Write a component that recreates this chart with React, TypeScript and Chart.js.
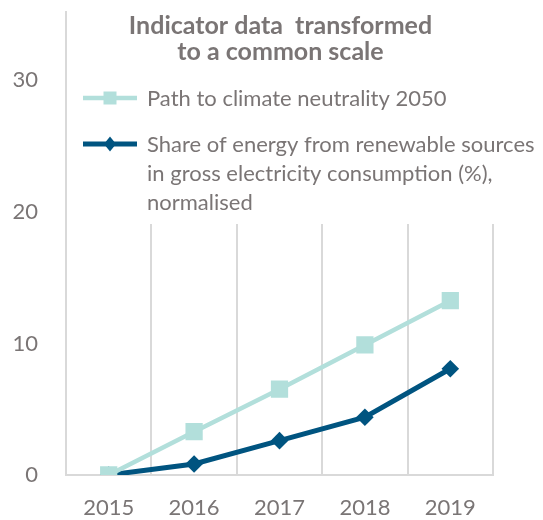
import React, { useEffect, useRef } from "react";
import { Chart, registerables } from "chart.js";

Chart.register(...registerables);

const categories = ["2015", "2016", "2017", "2018", "2019"];
const pathValues = [0, 3.29, 6.52, 9.89, 13.25];
const renewableValues = [0, 0.84, 2.61, 4.39, 8.08];
const yTicks = [0, 10, 20, 30];
const titleLines = ["Indicator data  transformed", "to a common scale"];
const pathLabel = ["Path to climate neutrality 2050"];
const renewableLabel = [
  "Share of energy from renewable sources",
  "in gross electricity consumption (%),",
  "normalised",
];

const TEAL = "rgb(178,223,219)";
const NAVY = "rgb(0,84,128)";
const TEXT = "#7a7575";
const GRID = "#d9d9d9";
const FONT = "Lato";

const overlayPlugin = {
  id: "overlayTitleLegend",
  beforeDatasetsDraw(chart: any) {
    const { ctx, chartArea } = chart;
    ctx.save();
    // white panel behind title & legend (hides gridlines)
    ctx.fillStyle = "#ffffff";
    ctx.fillRect(chartArea.left + 1.5, chartArea.top - 2, chart.width - chartArea.left, 226 - chartArea.top);

    // title
    const cx = (chartArea.left + chartArea.right) / 2;
    ctx.fillStyle = TEXT;
    ctx.font = `bold 25px ${FONT}`;
    ctx.textAlign = "center";
    ctx.textBaseline = "alphabetic";
    titleLines.forEach((t, i) => ctx.fillText(t, cx + 1, 34 + i * 26));

    // legend
    const items = chart.data.datasets.map((ds: any) => ds);
    const lineX0 = 83;
    const lineX1 = 137;
    const mx = 110;
    const textX = 147;
    const rows = [
      { ds: items[0], lines: pathLabel, y: 98 },
      { ds: items[1], lines: renewableLabel, y: 144 },
    ];
    rows.forEach(({ ds, lines, y }) => {
      ctx.strokeStyle = ds.borderColor;
      ctx.lineWidth = ds.borderWidth;
      ctx.beginPath();
      ctx.moveTo(lineX0, y);
      ctx.lineTo(lineX1, y);
      ctx.stroke();
      ctx.fillStyle = ds.borderColor;
      ctx.beginPath();
      if (ds.pointStyle === "rect") {
        ctx.rect(mx - 6.5, y - 6.5, 13, 13);
      } else {
        ctx.moveTo(mx, y - 7.5);
        ctx.lineTo(mx + 6, y);
        ctx.lineTo(mx, y + 7.5);
        ctx.lineTo(mx - 6, y);
        ctx.closePath();
      }
      ctx.fill();
      ctx.fillStyle = TEXT;
      ctx.font = `22px ${FONT}`;
      ctx.textAlign = "left";
      ctx.textBaseline = "middle";
      lines.forEach((l: string, i: number) => ctx.fillText(l, textX, y + 1 + i * 29));
    });
    ctx.restore();
  },
};

export default function App() {
  const canvasRef = useRef<HTMLCanvasElement>(null);

  useEffect(() => {
    if (!canvasRef.current) return;
    const chart = new Chart(canvasRef.current, {
      type: "line",
      data: {
        labels: categories,
        datasets: [
          {
            label: pathLabel.join(" "),
            data: pathValues,
            borderColor: TEAL,
            backgroundColor: TEAL,
            borderWidth: 4.5,
            pointStyle: "rect",
            pointRadius: 12.2,
            pointBorderWidth: 0,
            pointBackgroundColor: TEAL,
            tension: 0,
          },
          {
            label: renewableLabel.join(" "),
            data: renewableValues,
            borderColor: NAVY,
            backgroundColor: NAVY,
            borderWidth: 5,
            pointStyle: "rectRot",
            pointRadius: 8.8,
            pointBorderWidth: 0,
            pointBackgroundColor: NAVY,
            tension: 0,
          },
        ],
      },
      options: {
        responsive: false,
        animation: false,
        layout: { autoPadding: false, padding: { left: 0, right: 50, top: 12, bottom: 0 } },
        plugins: {
          legend: { display: false },
          title: { display: false },
          tooltip: { enabled: false },
        },
        scales: {
          x: {
            type: "category",
            offset: true,
            grid: { offset: true, color: GRID, lineWidth: 2, drawTicks: false },
            border: { color: GRID, width: 2 },
            ticks: {
              color: TEXT,
              font: { family: FONT, size: 22 },
              padding: 20,
              maxRotation: 0,
            },
            afterFit: (s: any) => {
              s.height = 45;
            },
          },
          y: {
            min: 0,
            max: 35.2,
            grid: { display: false, drawTicks: false },
            border: { color: GRID, width: 2 },
            ticks: {
              color: TEXT,
              font: { family: FONT, size: 22 },
              padding: 28,
            },
            afterBuildTicks: (s: any) => {
              s.ticks = yTicks.map((v) => ({ value: v }));
            },
            afterFit: (s: any) => {
              s.width = 66;
              s.paddingTop = 0;
              s.paddingBottom = 0;
            },
          },
        },
      },
      plugins: [overlayPlugin],
    });
    return () => chart.destroy();
  }, []);

  return (
    <div style={{ position: "absolute", left: 0, top: 0, width: 543, height: 520, background: "#fff" }}>
      <canvas ref={canvasRef} width={543} height={520} style={{ display: "block" }} />
    </div>
  );
}
